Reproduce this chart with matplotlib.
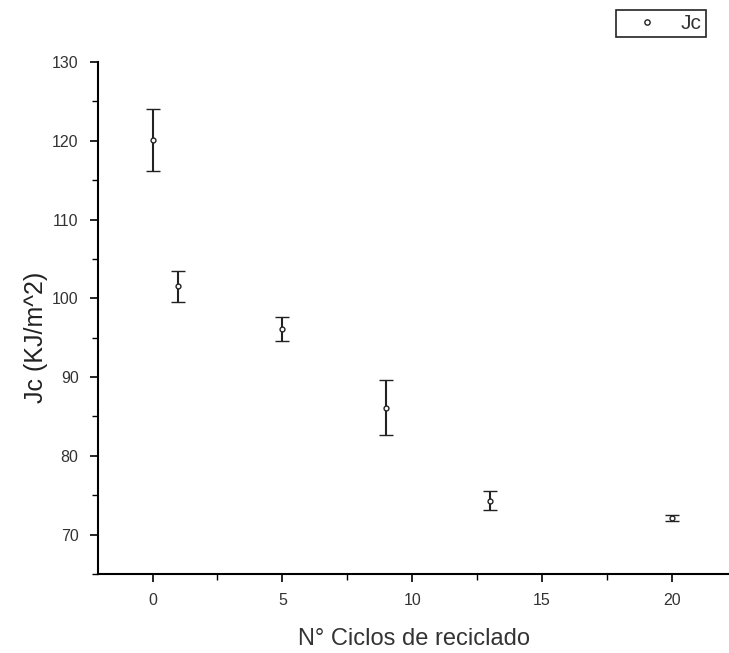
import matplotlib.pyplot as plt
from matplotlib.ticker import MultipleLocator
from matplotlib.lines import Line2D

ciclos = [0, 1, 5, 9, 13, 20]
jc = [120.1, 101.5, 96.1, 86.1, 74.3, 72.1]
jc_err = [3.9, 2.0, 1.5, 3.5, 1.2, 0.4]

plt.rcParams['font.family'] = ['Liberation Sans', 'DejaVu Sans']

fig = plt.figure(figsize=(7.29, 6.53), dpi=100)
ax = fig.add_axes([98/729, 1 - 574/653, 631/729, (574 - 62)/653])

ax.errorbar(ciclos, jc, yerr=jc_err, fmt='o', markersize=3.5, markerfacecolor='white',
            markeredgecolor='#222222', markeredgewidth=1.0, ecolor='#222222',
            elinewidth=1.5, capsize=5, capthick=1.5)

ax.set_xlim(-2.1, 22.2)
ax.set_ylim(65, 130)
ax.xaxis.set_major_locator(MultipleLocator(5))
ax.xaxis.set_minor_locator(MultipleLocator(2.5))
ax.yaxis.set_major_locator(MultipleLocator(10))
ax.yaxis.set_minor_locator(MultipleLocator(5))

ax.spines['top'].set_visible(False)
ax.spines['right'].set_visible(False)
ax.spines['left'].set_linewidth(1.5)
ax.spines['bottom'].set_linewidth(1.5)
ax.tick_params(which='major', direction='out', length=6, width=1.2, labelsize=11.5,
               labelcolor='#333333', pad=8)
ax.tick_params(which='minor', direction='out', length=4, width=1.0)

ax.set_ylabel('Jc (KJ/m^2)', fontsize=18, color='#222222')
ax.yaxis.set_label_coords(-0.079, 0.463)
ax.set_xlabel('N° Ciclos de reciclado', fontsize=17, color='#333333', labelpad=14)

# legend shows only the marker
handle = Line2D([], [], linestyle='none', marker='o', markersize=3.8,
                markerfacecolor='white', markeredgecolor='#222222', markeredgewidth=1.0)
leg = ax.legend([handle], ['Jc'], loc='upper right', bbox_to_anchor=(706/729, 1 - 10/653),
                bbox_transform=fig.transFigure, fancybox=False, edgecolor='#222222',
                fontsize=15, handletextpad=0.4, handlelength=2.5, borderpad=0.2,
                borderaxespad=0, framealpha=1)
leg.get_frame().set_linewidth(1.2)
for t in leg.get_texts():
    t.set_color('#333333')

fig.savefig('out.png', dpi=100)
